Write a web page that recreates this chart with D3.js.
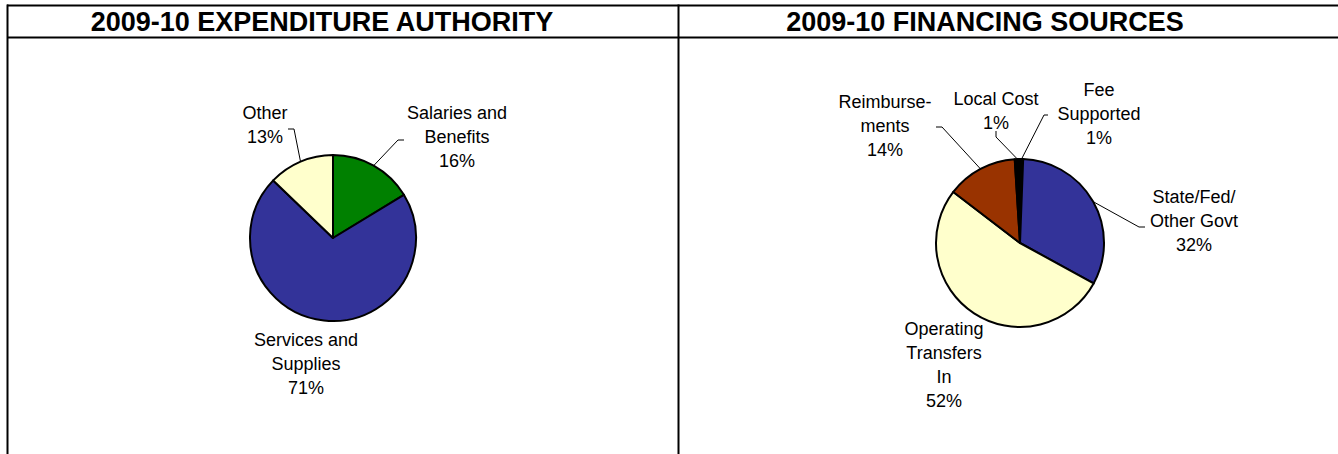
<!DOCTYPE html>
<html><head><meta charset="utf-8">
<script src="https://cdn.jsdelivr.net/npm/d3@7"></script>
<style>
html,body{margin:0;padding:0;background:#fff;}
svg{display:block;}
text{font-family:"Liberation Sans",Arial,sans-serif;fill:#000;}
</style></head>
<body>
<svg id="chart" width="1338" height="454"></svg>
<script>
// ---- Data ----
const expCategories = ["Salaries and Benefits", "Services and Supplies", "Other"];
const expValues = [16.3, 70.9, 12.8];
const expLabels = ["16%", "71%", "13%"];
const expColors = ["#008000", "#333399", "#FFFFCC"];

const finCategories = ["Fee Supported", "State/Fed/Other Govt", "Operating Transfers In", "Reimbursements", "Local Cost"];
const finValues = [0.6, 32.4, 52.4, 13.6, 1.0];
const finLabels = ["1%", "32%", "52%", "14%", "1%"];
const finColors = ["#000000", "#333399", "#FFFFCC", "#993300", "#000000"];

const titles = ["2009-10 EXPENDITURE AUTHORITY", "2009-10 FINANCING SOURCES"];

// ---- Layout ----
const svg = d3.select("#chart");
const W = 1338, H = 454;
const frame = svg.append("g");
frame.append("line").attr("x1", 7).attr("x2", W).attr("y1", 5.5).attr("y2", 5.5).attr("stroke", "#000").attr("stroke-width", 2);
frame.append("line").attr("x1", 7).attr("x2", W).attr("y1", 37.5).attr("y2", 37.5).attr("stroke", "#000").attr("stroke-width", 2);
frame.append("line").attr("x1", 7.5).attr("x2", 7.5).attr("y1", 4.5).attr("y2", H).attr("stroke", "#000").attr("stroke-width", 2);
frame.append("line").attr("x1", 678.5).attr("x2", 678.5).attr("y1", 4.5).attr("y2", H).attr("stroke", "#000").attr("stroke-width", 2);

const titleX = [322, 985];
titles.forEach((t, i) => {
  svg.append("text").attr("x", titleX[i]).attr("y", 31).attr("text-anchor", "middle")
    .attr("font-weight", "bold").attr("font-size", 27).text(t);
});

function drawPie(cfg) {
  const g = svg.append("g").attr("transform", `translate(${cfg.cx},${cfg.cy})`);
  const pie = d3.pie().sort(null).value(d => d)(cfg.values);
  const arc = d3.arc().innerRadius(0).outerRadius(cfg.r);
  g.selectAll("path.slice").data(pie).enter().append("path")
    .attr("class", "slice")
    .attr("d", arc)
    .attr("fill", (d, i) => cfg.colors[i])
    .attr("stroke", "#000").attr("stroke-width", 2).attr("stroke-linejoin", "round");

  pie.forEach((d, i) => {
    const L = cfg.labels[i];
    const a = (d.startAngle + d.endAngle) / 2;
    const px = cfg.r * Math.sin(a), py = -cfg.r * Math.cos(a);
    if (L.leader) {
      const pts = [[px, py]].concat(L.leader.map(p => [p[0] - cfg.cx, p[1] - cfg.cy]));
      g.append("path").attr("d", d3.line()(pts)).attr("fill", "none")
        .attr("stroke", "#000").attr("stroke-width", 1);
    }
    const lines = L.text.concat([cfg.pcts[i]]);
    const t = g.append("text").attr("text-anchor", "middle").attr("font-size", 18);
    lines.forEach((s, k) => {
      t.append("tspan").attr("x", L.x - cfg.cx).attr("y", L.y - cfg.cy + k * 24).text(s);
    });
  });
}

drawPie({
  cx: 333, cy: 238, r: 83,
  values: expValues, colors: expColors, pcts: expLabels,
  labels: [
    {text: ["Salaries and", "Benefits"], x: 457, y: 119, leader: [[398, 140], [404, 140]]},
    {text: ["Services and", "Supplies"], x: 306, y: 346},
    {text: ["Other"], x: 265, y: 119, leader: [[294, 129], [288, 129]]}
  ]
});

drawPie({
  cx: 1020, cy: 243, r: 84,
  values: finValues, colors: finColors, pcts: finLabels,
  labels: [
    {text: ["Fee", "Supported"], x: 1099, y: 96, leader: [[1044, 115], [1048, 115]]},
    {text: ["State/Fed/", "Other Govt"], x: 1194, y: 203, leader: [[1139, 227], [1145, 227]]},
    {text: ["Operating", "Transfers", "In"], x: 944, y: 335},
    {text: ["Reimburse-", "ments"], x: 885, y: 108, leader: [[942, 127], [936, 127]]},
    {text: ["Local Cost"], x: 996, y: 105, leader: [[996, 137], [996, 131]]}
  ]
});
</script>
</body></html>
